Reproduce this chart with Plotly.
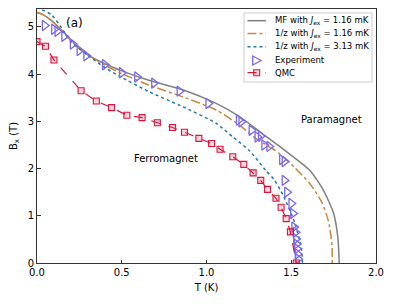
import plotly.graph_objects as go

# MF with Jex = 1.16 mK (gray solid)
mf_T = [0.0, 0.03, 0.065, 0.124, 0.184, 0.243, 0.29, 0.40, 0.50, 0.66, 0.86, 1.057, 1.195, 1.31, 1.46, 1.61, 1.69, 1.75, 1.775, 1.783]
mf_B = [5.30, 5.27, 5.19, 5.01, 4.79, 4.57, 4.43, 4.22, 4.07, 3.87, 3.67, 3.38, 3.10, 2.79, 2.39, 1.96, 1.54, 1.05, 0.54, 0.0]

# 1/z with Jex = 1.16 mK (orange dash-dot)
z1_T = [0.0, 0.03, 0.065, 0.124, 0.184, 0.243, 0.40, 0.50, 0.66, 0.86, 1.057, 1.195, 1.29, 1.39, 1.43, 1.52, 1.61, 1.68, 1.72, 1.74, 1.742]
z1_B = [5.30, 5.27, 5.19, 5.01, 4.77, 4.56, 4.19, 4.01, 3.77, 3.52, 3.24, 2.92, 2.64, 2.42, 2.32, 2.02, 1.68, 1.29, 0.88, 0.40, 0.0]

# 1/z with Jex = 3.13 mK (blue dotted)
z3_T = [0.0, 0.026, 0.085, 0.145, 0.20, 0.30, 0.40, 0.49, 0.66, 0.86, 1.057, 1.155, 1.25, 1.35, 1.40, 1.45, 1.52, 1.55, 1.56, 1.566]
z3_B = [5.42, 5.37, 5.26, 4.98, 4.69, 4.40, 4.14, 3.95, 3.63, 3.31, 2.96, 2.67, 2.39, 1.96, 1.76, 1.45, 0.86, 0.47, 0.33, 0.0]

# Experiment (triangles)
exp_T = [0.045, 0.10, 0.12, 0.16, 0.21, 0.25, 0.29, 0.40, 0.50, 0.59, 0.69, 0.84, 1.01, 1.19, 1.205, 1.265, 1.30, 1.32, 1.34, 1.37,
         1.445, 1.46, 1.46, 1.475, 1.50, 1.51, 1.517, 1.525, 1.528, 1.531, 1.534, 1.537, 1.54]
exp_B = [5.03, 4.95, 4.91, 4.80, 4.64, 4.50, 4.39, 4.20, 4.03, 3.94, 3.81, 3.64, 3.38, 3.03, 2.99, 2.81, 2.67, 2.69, 2.50, 2.47,
         2.19, 2.15, 1.75, 1.50, 1.26, 1.05, 0.76, 0.65, 0.51, 0.40, 0.30, 0.19, 0.085]

# QMC (squares)
qmc_T = [0.0, 0.05, 0.10, 0.26, 0.35, 0.44, 0.53, 0.62, 0.71, 0.80, 0.87, 0.955, 1.03, 1.08, 1.155, 1.22, 1.275, 1.32, 1.36, 1.41, 1.44, 1.47, 1.495, 1.53]
qmc_B = [4.69, 4.59, 4.30, 3.65, 3.43, 3.29, 3.13, 3.08, 2.97, 2.87, 2.77, 2.64, 2.53, 2.41, 2.25, 2.09, 1.91, 1.75, 1.56, 1.37, 1.18, 0.94, 0.66, 0.0]

x_ticks = [0, 0.5, 1.0, 1.5, 2.0]
x_ticklabels = ["0.0", "0.5", "1.0", "1.5", "2.0"]
y_ticks = [0, 1, 2, 3, 4, 5]

legend_labels = ["MF with <i>J</i><sub>ex</sub> = 1.16 mK",
                 "1/z with <i>J</i><sub>ex</sub> = 1.16 mK",
                 "1/z with <i>J</i><sub>ex</sub> = 3.13 mK",
                 "Experiment",
                 "QMC"]

FONT = "DejaVu Sans"
# the page places the figure 8px in from the top-left corner (body margin)
OFF = 8
W, H = 394 - OFF, 304 - OFF
ML, MR, MT, MB = 37 - OFF, 18, 9 - OFF, 41
PW, PH = W - ML - MR, H - MT - MB

GRAY, ORANGE, BLUE, PURPLE, RED = "#808080", "#CD853F", "#1f77b4", "#7B68EE", "#DC143C"


def px(xp):
    # window pixel x -> paper coordinate
    return (xp - OFF - ML) / PW


def py(yp):
    # window pixel y -> paper coordinate
    return (H - MB - (yp - OFF)) / PH


fig = go.Figure()
fig.add_trace(go.Scatter(x=mf_T, y=mf_B, mode="lines", line=dict(color=GRAY, width=1.5, shape="spline", smoothing=0.6),
                         name=legend_labels[0]))
fig.add_trace(go.Scatter(x=z1_T, y=z1_B, mode="lines", line=dict(color=ORANGE, width=1.5, dash="dashdot", shape="spline", smoothing=0.6),
                         name=legend_labels[1]))
fig.add_trace(go.Scatter(x=z3_T, y=z3_B, mode="lines", line=dict(color=BLUE, width=1.5, dash="dot", shape="spline", smoothing=0.6),
                         name=legend_labels[2]))
fig.add_trace(go.Scatter(x=exp_T, y=exp_B, mode="markers",
                         marker=dict(symbol="triangle-right-open", size=9, color=PURPLE, line=dict(width=1.3, color=PURPLE)),
                         name=legend_labels[3]))
fig.add_trace(go.Scatter(x=qmc_T, y=qmc_B, mode="lines+markers",
                         line=dict(color=RED, width=1.2, dash="dash"),
                         marker=dict(symbol="square", size=6, color="rgba(220,20,60,0.18)", line=dict(width=1.1, color=RED)),
                         name=legend_labels[4]))

fig.add_annotation(x=0.223, y=5.09, text="(a)", showarrow=False, font=dict(family=FONT, size=12, color="black"))
fig.add_annotation(x=1.74, y=3.03, text="Paramagnet", showarrow=False, font=dict(family=FONT, size=10, color="black"))
fig.add_annotation(x=0.76, y=2.22, text="Ferromagnet", showarrow=False, font=dict(family=FONT, size=10, color="black"))

# ---- legend drawn as a box (matplotlib-style compact legend) ----
shapes = []
shapes.append(dict(type="rect", xref="paper", yref="paper", x0=px(244), x1=px(372), y0=py(82), y1=py(13),
                   line=dict(color="#cccccc", width=1), fillcolor="rgba(255,255,255,0.85)", layer="above"))
rows = [20.7, 33.5, 46.8, 60.5, 72.7]
lx0, lx1, lxc, tx = 247.5, 266, 256.7, 272.5
line_styles = [(GRAY, "solid"), (ORANGE, "dashdot"), (BLUE, "dot")]
for (col, dash), r in zip(line_styles, rows[:3]):
    shapes.append(dict(type="line", xref="paper", yref="paper", x0=px(lx0), x1=px(lx1), y0=py(r), y1=py(r),
                       line=dict(color=col, width=1.5, dash=dash), layer="above"))
# experiment triangle
r = rows[3]
shapes.append(dict(type="path", xref="paper", yref="paper",
                   path=f"M {px(lxc-4)} {py(r-4.5)} L {px(lxc+4.5)} {py(r)} L {px(lxc-4)} {py(r+4.5)} Z",
                   line=dict(color=PURPLE, width=1.3), fillcolor="rgba(0,0,0,0)", layer="above"))
# QMC dashed line + square
r = rows[4]
shapes.append(dict(type="line", xref="paper", yref="paper", x0=px(lx0), x1=px(lx1), y0=py(r), y1=py(r),
                   line=dict(color=RED, width=1.2, dash="dash"), layer="above"))
shapes.append(dict(type="rect", xref="paper", yref="paper", x0=px(lxc-3), x1=px(lxc+3), y0=py(r+3), y1=py(r-3),
                   line=dict(color=RED, width=1.1), fillcolor="rgba(220,20,60,0.18)", layer="above"))
for lab, r in zip(legend_labels, rows):
    fig.add_annotation(xref="paper", yref="paper", x=px(tx), y=py(r), xanchor="left", yanchor="middle",
                       text=lab, showarrow=False, font=dict(family=FONT, size=8.5, color="black"))

axis_common = dict(showline=True, linecolor="#333333", linewidth=1, mirror=True, ticks="inside", ticklen=3.5,
                   tickwidth=1, tickcolor="#333333", showgrid=False, zeroline=False, automargin=False,
                   tickfont=dict(family=FONT, size=10, color="black"))
fig.update_xaxes(range=[0, 2], tickvals=x_ticks, ticktext=x_ticklabels,
                 title=dict(text="T (K)", font=dict(family=FONT, size=10, color="black"), standoff=6), **axis_common)
fig.update_yaxes(range=[0, 5.38], tickvals=y_ticks,
                 title=dict(text="B<sub>x</sub> (T)", font=dict(family=FONT, size=10, color="black"), standoff=11), **axis_common)

fig.update_layout(
    width=W, height=H,
    margin=dict(l=ML, r=MR, t=MT, b=MB, autoexpand=False),
    plot_bgcolor="white", paper_bgcolor="white",
    font=dict(family=FONT, color="black"),
    showlegend=False,
    shapes=shapes,
)

fig.write_html("out.html")
